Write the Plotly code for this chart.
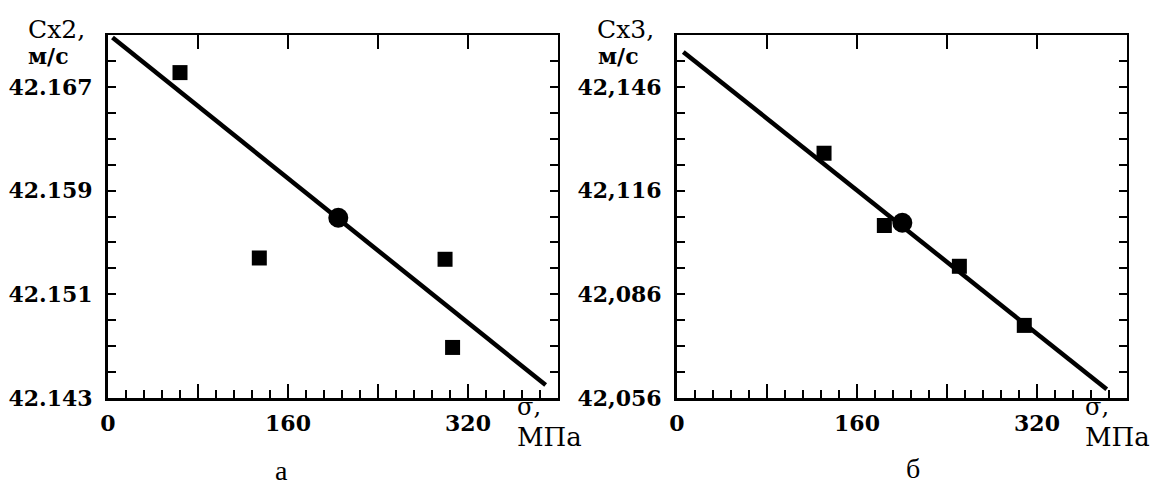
import plotly.graph_objects as go

# ---------------- data ----------------
# panel a
sigma_a = [64, 134.5, 299.6, 306.3]
cx2_pts = [42.1681, 42.1538, 42.1537, 42.1469]
sigma_a_mean = [204.7]
cx2_mean = [42.1569]
fit_a_x = [4, 389]
fit_a_y = [42.1708, 42.1440]

# panel b
sigma_b = [130.7, 184.3, 251.0, 308.7]
cx3_pts = [42.1268, 42.1059, 42.0941, 42.0770]
sigma_b_mean = [200.3]
cx3_mean = [42.1067]
fit_b_x = [5.6, 382]
fit_b_y = [42.1561, 42.0585]

# axes
x_range = [0, 400]
x_major_vals = [0, 80, 160, 240, 320]
x_major_text = ["0", "", "160", "", "320"]
x_top_vals = [80, 160, 240, 320]
x_minor_step = 16

ya_range = [42.143, 42.171]
ya_tick_vals = [42.143, 42.151, 42.159, 42.167]
ya_tick_text = ["42.143", "42.151", "42.159", "42.167"]
ya_minor_step = 0.002

yb_range = [42.056, 42.161]
yb_tick_vals = [42.056, 42.086, 42.116, 42.146]
yb_tick_text = ["42,056", "42,086", "42,116", "42,146"]
yb_minor_step = 0.0075

# ---------------- layout geometry ----------------
W, H = 1154, 487
def px(x):
    return x / W
def py(y):
    return 1 - y / H

dom_a = [px(108), px(558)]
dom_b = [px(677), px(1127)]
dom_y = [py(398), py(35)]

fig = go.Figure()

sq = dict(symbol="square", size=15, color="black", line=dict(width=0))
ci = dict(symbol="circle", size=20, color="black", line=dict(width=0))
ln = dict(color="black", width=4.5)

fig.add_trace(go.Scatter(x=fit_a_x, y=fit_a_y, mode="lines", line=ln, xaxis="x", yaxis="y"))
fig.add_trace(go.Scatter(x=sigma_a, y=cx2_pts, mode="markers", marker=sq, xaxis="x", yaxis="y"))
fig.add_trace(go.Scatter(x=sigma_a_mean, y=cx2_mean, mode="markers", marker=ci, xaxis="x", yaxis="y"))

fig.add_trace(go.Scatter(x=fit_b_x, y=fit_b_y, mode="lines", line=ln, xaxis="x2", yaxis="y2"))
fig.add_trace(go.Scatter(x=sigma_b, y=cx3_pts, mode="markers", marker=sq, xaxis="x2", yaxis="y2"))
fig.add_trace(go.Scatter(x=sigma_b_mean, y=cx3_mean, mode="markers", marker=ci, xaxis="x2", yaxis="y2"))

# invisible traces to activate overlay axes
fig.add_trace(go.Scatter(x=[None], y=[None], mode="markers", xaxis="x3", yaxis="y3", hoverinfo="skip"))
fig.add_trace(go.Scatter(x=[None], y=[None], mode="markers", xaxis="x4", yaxis="y4", hoverinfo="skip"))

tickfont = dict(family="DejaVu Serif", size=22, color="black", weight="bold")

def xbottom(domain, anchor):
    return dict(domain=domain, anchor=anchor, range=x_range, showline=True, linewidth=3,
                linecolor="black", ticks="inside", tickvals=x_major_vals, ticktext=x_major_text,
                ticklen=14, tickwidth=2, tickcolor="black", tickfont=tickfont,
                ticklabelstandoff=4, automargin=False,
                minor=dict(ticks="inside", dtick=x_minor_step, tick0=0, ticklen=8,
                           tickwidth=2, tickcolor="black", showgrid=False),
                showgrid=False, zeroline=False, fixedrange=True)

def xtop(over, anchor):
    return dict(overlaying=over, anchor=anchor, side="top", range=x_range, showline=True,
                linewidth=2, linecolor="black", ticks="inside", tickvals=x_top_vals,
                ticklen=14, tickwidth=2, tickcolor="black", showticklabels=False,
                showgrid=False, zeroline=False, automargin=False)

def yleft(rng, vals, text, step, anchor):
    return dict(domain=dom_y, anchor=anchor, range=rng, showline=True, linewidth=3,
                linecolor="black", ticks="inside", tickvals=vals, ticktext=text,
                ticklen=8, tickwidth=2, tickcolor="black", tickfont=tickfont,
                ticklabelstandoff=8, automargin=False,
                minor=dict(ticks="inside", dtick=step, tick0=rng[0], ticklen=8,
                           tickwidth=2, tickcolor="black", showgrid=False),
                showgrid=False, zeroline=False)

def yright(rng, step, over, anchor):
    return dict(overlaying=over, anchor=anchor, side="right", range=rng, showline=True,
                linewidth=2, linecolor="black", ticks="inside", tick0=rng[0], dtick=step,
                ticklen=8, tickwidth=2, tickcolor="black", showticklabels=False,
                showgrid=False, zeroline=False, automargin=False)

fig.update_layout(
    width=W, height=H, margin=dict(l=0, r=0, t=0, b=0, pad=0),
    paper_bgcolor="white", plot_bgcolor="white", showlegend=False,
    xaxis=xbottom(dom_a, "y"),
    xaxis2=xbottom(dom_b, "y2"),
    xaxis3=xtop("x", "y"),
    xaxis4=xtop("x2", "y2"),
    yaxis=yleft(ya_range, ya_tick_vals, ya_tick_text, ya_minor_step, "x"),
    yaxis2=yleft(yb_range, yb_tick_vals, yb_tick_text, yb_minor_step, "x2"),
    yaxis3=yright(ya_range, ya_minor_step, "y", "x"),
    yaxis4=yright(yb_range, yb_minor_step, "y2", "x2"),
)

serif = "DejaVu Serif"
def note(text, x, y, size, bold=False, family=serif, xanchor="center"):
    fig.add_annotation(text=text, x=px(x), y=py(y), xref="paper", yref="paper",
                       xanchor=xanchor, yanchor="middle", showarrow=False,
                       font=dict(family=family, size=size, color="black",
                                 weight="bold" if bold else "normal"))

note("Cx2,", 56, 29, 25)
note("м/с", 48, 56, 22, bold=True)
note("Cx3,", 625, 29, 25)
note("м/с", 618, 56, 22, bold=True)
note("σ,", 515, 407, 24, xanchor="left")
note("МПа", 515, 437, 26, xanchor="left")
note("σ,", 1083, 407, 24, xanchor="left")
note("МПа", 1083, 437, 26, xanchor="left")
note("а", 281, 470, 28, family="Liberation Serif")
note("б", 913, 468, 28, family="Liberation Serif")

fig.write_html("out.html", config={"displayModeBar": False},
               post_script="document.body.style.margin='0';document.body.style.overflow='hidden';")
